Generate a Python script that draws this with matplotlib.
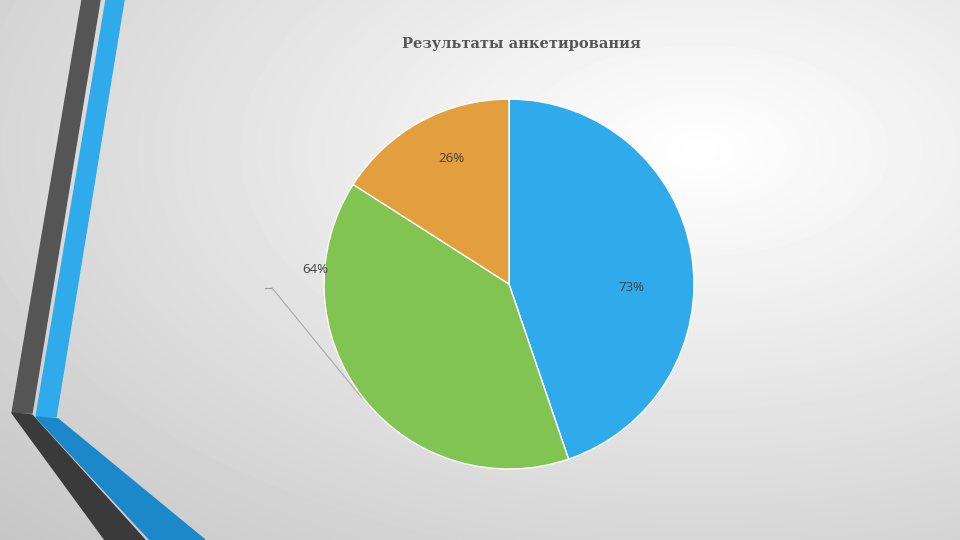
import matplotlib.pyplot as plt
import numpy as np
from matplotlib.patches import Polygon

values = [73, 64, 26]
labels = ['73%', '64%', '26%']
colors = ['#2FABEB', '#82C451', '#E39E3D']
title = 'Результаты анкетирования'

fig = plt.figure(figsize=(9.6, 5.4), dpi=100)

# фон с радиальным градиентом и полосы слева
bg = fig.add_axes([0, 0, 1, 1])
yy, xx = np.mgrid[0:540, 0:960]
d = np.sqrt(((xx - 700) / 960) ** 2 + ((yy - 150) / 540) ** 2)
shade = np.clip(1.0 - 0.22 * d, 0.76, 1.0)
bg.imshow(shade, cmap='gray', vmin=0, vmax=1, extent=[0, 960, 540, 0], aspect='auto')
bg.add_patch(Polygon([(82, 0), (100, 0), (32, 413), (12, 413)], color='#555555'))
bg.add_patch(Polygon([(106, 0), (124, 0), (56, 417), (36, 417)], color='#2FABEB'))
bg.add_patch(Polygon([(12, 413), (32, 415), (145, 540), (105, 540)], color='#3a3a3a'))
bg.add_patch(Polygon([(36, 417), (58, 419), (205, 540), (150, 540)], color='#1A88C9'))
bg.plot([265, 272], [288, 288], color='#999999', lw=0.8)
bg.plot([272, 362], [288, 398], color='#aaaaaa', lw=0.8)
bg.set_xlim(0, 960)
bg.set_ylim(540, 0)
bg.axis('off')

fig.text(0.543, 0.918, title, ha='center', va='center', fontsize=10.5,
         fontweight='bold', family='DejaVu Serif', color='#555555')

ax = fig.add_axes([0.3375, 0.1315, 0.3854, 0.685])
ax.pie(values, colors=colors, startangle=90, counterclock=False,
       wedgeprops=dict(edgecolor='white', linewidth=1))
label_pos = [(0.66, -0.02), (-1.05, 0.08), (-0.31, 0.68)]
for txt, (x, y) in zip(labels, label_pos):
    ax.text(x, y, txt, ha='center', va='center', fontsize=9.5,
            family='Open Sans', color='#404040')
ax.set_xlim(-1, 1)
ax.set_ylim(-1, 1)
ax.set_aspect('equal')

fig.savefig('out.png', dpi=100)
